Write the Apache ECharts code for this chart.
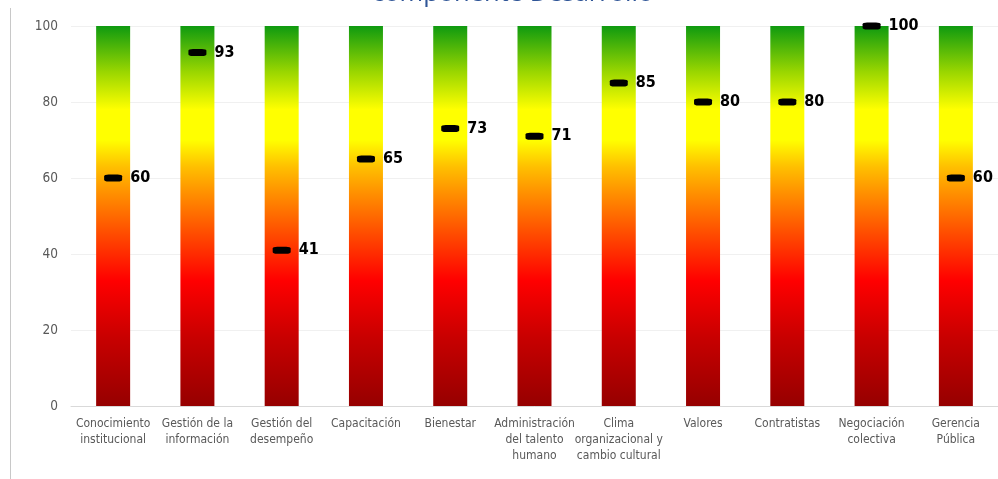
<!DOCTYPE html>
<html>
<head>
<meta charset="utf-8">
<script src="https://cdn.jsdelivr.net/npm/echarts@6/dist/echarts.min.js"></script>
<style>
  html, body { margin: 0; padding: 0; background: #ffffff; }
  #chart { width: 998px; height: 479px; }
</style>
</head>
<body>
<div id="chart"></div>
<script>
// Components of the "Desarrollo" block and their scores (0-100)
const categories = [
  'Conocimiento\ninstitucional',
  'Gestión de la\ninformación',
  'Gestión del\ndesempeño',
  'Capacitación',
  'Bienestar',
  'Administración\ndel talento\nhumano',
  'Clima\norganizacional y\ncambio cultural',
  'Valores',
  'Contratistas',
  'Negociación\ncolectiva',
  'Gerencia\nPública'
];
const scores = [60, 93, 41, 65, 73, 71, 85, 80, 80, 100, 60];
// Full-height colour scale behind each score
const scaleTop = [100, 100, 100, 100, 100, 100, 100, 100, 100, 100, 100];
const yTicks = [0, 20, 40, 60, 80, 100];

const narrow = '"Liberation Sans Narrow", "DejaVu Sans Condensed", "Liberation Sans", sans-serif';

const scaleGradient = new echarts.graphic.LinearGradient(0, 1, 0, 0, [
  { offset: 0.00, color: '#960000' },
  { offset: 0.18, color: '#c80000' },
  { offset: 0.33, color: '#ff0000' },
  { offset: 0.45, color: '#ff4a00' },
  { offset: 0.56, color: '#ff9000' },
  { offset: 0.63, color: '#ffc000' },
  { offset: 0.70, color: '#ffff00' },
  { offset: 0.78, color: '#ffff00' },
  { offset: 0.88, color: '#99d600' },
  { offset: 1.00, color: '#0f9a10' }
]);

const chart = echarts.init(document.getElementById('chart'), null, { renderer: 'canvas' });
chart.setOption({
  animation: false,
  backgroundColor: '#ffffff',
  title: {
    text: 'componente Desarrollo»',
    left: 367,
    top: -24,
    textStyle: {
      color: '#2f5597',
      fontFamily: '"Open Sans", "Noto Sans", sans-serif',
      fontWeight: 'normal',
      fontSize: 25.5
    }
  },
  graphic: [{
    type: 'line',
    shape: { x1: 10.5, y1: 8, x2: 10.5, y2: 479 },
    style: { stroke: '#c8c8c8', lineWidth: 1 },
    silent: true
  }],
  grid: { left: 71, right: -11, top: 26, bottom: 73, containLabel: false },
  xAxis: {
    type: 'category',
    data: categories,
    axisLine: { show: true, lineStyle: { color: '#d9d9d9', width: 1 } },
    axisTick: { show: false },
    axisLabel: {
      interval: 0,
      margin: 10,
      color: '#595959',
      fontFamily: narrow,
      fontSize: 12,
      lineHeight: 16
    }
  },
  yAxis: {
    type: 'value',
    min: yTicks[0],
    max: yTicks[yTicks.length - 1],
    interval: 20,
    axisLine: { show: false },
    axisTick: { show: false },
    axisLabel: {
      margin: 13,
      color: '#595959',
      fontFamily: narrow,
      fontSize: 13.5
    },
    splitLine: { show: true, lineStyle: { color: '#f0f0f0', width: 1 } }
  },
  series: [
    {
      type: 'bar',
      data: scaleTop,
      barWidth: 34,
      itemStyle: { color: scaleGradient },
      silent: true,
      z: 1
    },
    {
      type: 'scatter',
      data: scores,
      symbol: 'roundRect',
      symbolSize: [18, 7],
      itemStyle: { color: '#000000', opacity: 1 },
      label: {
        show: true,
        position: 'right',
        distance: 8,
        color: '#000000',
        fontFamily: narrow,
        fontWeight: 'bold',
        fontSize: 16
      },
      z: 3
    }
  ]
});
</script>
</body>
</html>
